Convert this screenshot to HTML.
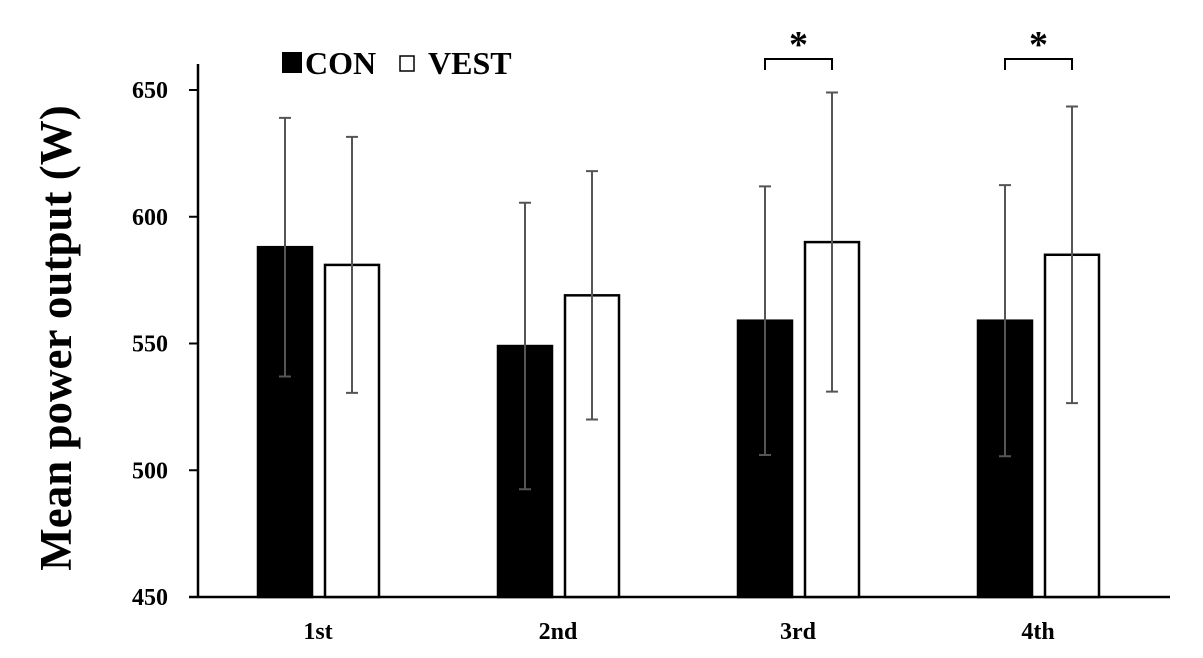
<!DOCTYPE html>
<html><head><meta charset="utf-8"><style>
body{margin:0;background:#fff}
svg text{font-family:"Liberation Serif",serif;font-weight:bold}
</style></head><body>
<svg id="chart" width="1203" height="653" xmlns="http://www.w3.org/2000/svg">
<g id="g"></g>
</svg>
<script>
const categories=["1st","2nd","3rd","4th"];
const conValues=[588,549,559,559];
const conErr=[51,56.5,53,53.5];
const vestValues=[581,569,590,585];
const vestErr=[50.5,49,59,58.5];
const yTicks=[450,500,550,600,650];
const sigGroups=[2,3];

const NS="http://www.w3.org/2000/svg";
const g=document.getElementById('g');
function y(v){return 597-(v-450)*2.535;}
function gx(i){return 318+i*240;}
function mk(t,a,txt){const e=document.createElementNS(NS,t);for(const k in a)e.setAttribute(k,a[k]);if(txt!==undefined)e.textContent=txt;g.appendChild(e);return e;}
let e=mk('line',{x1:198,y1:64,x2:198,y2:597,stroke:'#000','stroke-width':2.5});


e=mk('line',{x1:189,y1:597,x2:1170,y2:597,stroke:'#000','stroke-width':2.5});


yTicks.forEach(t=>{
 let l=mk('line',{x1:189,y1:y(t),x2:198,y2:y(t),stroke:'#000','stroke-width':2});
 
 
 let tx=mk('text',{x:168,y:y(t)+8,'text-anchor':'end','font-size':24},t);
 
 
});
function bar(cx,v,err,fill,name){
 let r=mk('rect',{x:cx-27,y:y(v),width:54,height:597-y(v),fill:fill,stroke:'#000','stroke-width':2.5});
 
 
 let eb=mk('path',{d:`M${cx},${y(v+err)}V${y(v-err)}M${cx-6},${y(v+err)}H${cx+6}M${cx-6},${y(v-err)}H${cx+6}`,stroke:'#555','stroke-width':2,fill:'none'});
 
 
}
categories.forEach((c,i)=>{
 bar(gx(i)-33,conValues[i],conErr[i],'#000','bar-con-'+c);
 bar(gx(i)+34,vestValues[i],vestErr[i],'#fff','bar-vest-'+c);
 let t=mk('text',{x:gx(i),y:639,'text-anchor':'middle','font-size':24},c);
 
 
});
sigGroups.forEach(i=>{
 let a=gx(i)-33,b=gx(i)+34;
 let p=mk('path',{d:`M${a},70V59H${b}V70`,stroke:'#000','stroke-width':2,fill:'none'});
 
 
 let s=mk('text',{x:(a+b)/2,y:57,'text-anchor':'middle','font-size':38},'*');
 
 
});
e=mk('rect',{x:282,y:52,width:20,height:21,fill:'#000'});


e=mk('text',{x:305,y:74,'font-size':32},'CON');


e=mk('rect',{x:400,y:56,width:14,height:15,fill:'#fff',stroke:'#000','stroke-width':1.5});


e=mk('text',{x:428,y:74,'font-size':32},'VEST');


e=mk('text',{x:0,y:0,'font-size':45,'text-anchor':'middle',transform:'translate(71,338) rotate(-90)'},'Mean power output (W)');


</script>
</body></html>
